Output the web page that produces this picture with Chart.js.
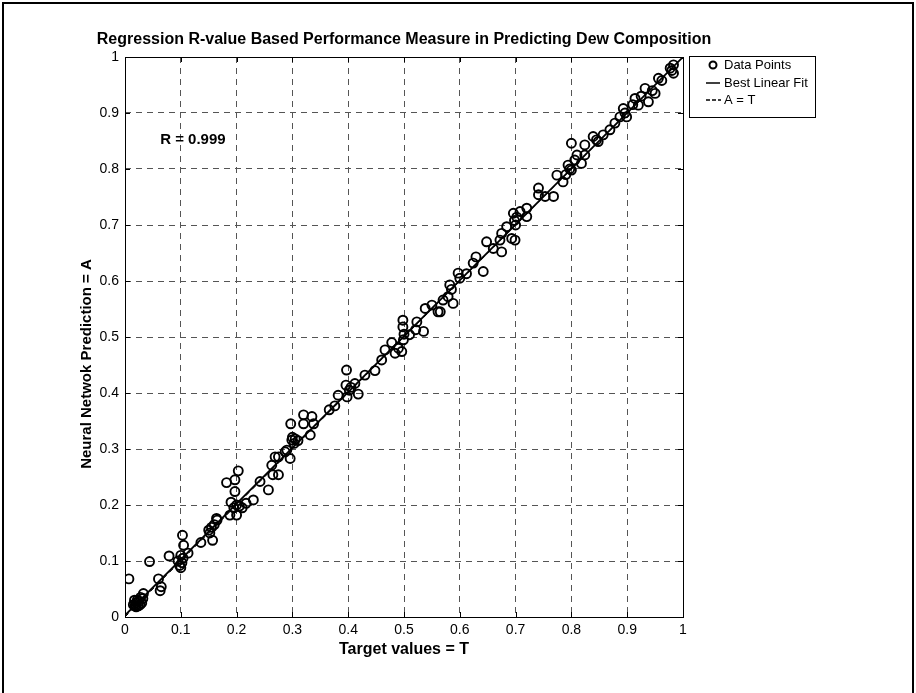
<!DOCTYPE html>
<html>
<head>
<meta charset="utf-8">
<script src="https://cdn.jsdelivr.net/npm/chart.js@4/dist/chart.umd.min.js"></script>
<style>
  html, body { margin: 0; padding: 0; background: #fff; }
  #wrap { width: 916px; height: 693px; }
</style>
</head>
<body>
<div id="wrap"><canvas id="c" width="916" height="693"></canvas></div>
<script>
// Target values (T) and the network's predicted values (A)
const targets = [
  0.015,0.018,0.020,0.022,0.025,0.028,0.030,0.017,0.024,0.032,0.020,0.027,
  0.007,0.044,0.033,0.060,0.065,0.063,
  0.079,0.095,0.098,0.100,0.102,0.104,0.100,0.103,0.105,0.113,0.136,
  0.150,0.155,0.160,0.165,0.157,0.152,0.164,
  0.182,0.197,0.203,0.197,0.190,0.195,0.200,0.188,0.200,0.205,0.210,0.217,0.230,
  0.242,0.257,0.263,0.265,0.275,0.275,0.290,0.269,
  0.287,0.296,0.297,0.299,0.300,0.303,0.305,0.310,0.320,0.320,0.335,0.338,0.332,
  0.366,0.376,0.382,0.397,0.396,0.398,0.402,0.405,0.412,0.418,0.430,0.448,
  0.460,0.466,0.478,0.484,0.496,0.490,0.498,0.498,0.500,0.499,0.510,0.523,0.521,
  0.535,0.538,0.550,0.561,0.565,0.570,0.579,0.588,0.582,0.585,0.597,0.600,0.612,
  0.624,0.629,0.642,0.648,0.660,0.672,0.675,0.675,0.684,0.693,0.699,0.696,0.698,
  0.700,0.702,0.708,0.720,0.720,0.741,0.741,0.753,0.768,0.774,0.785,0.794,0.800,
  0.806,0.818,0.824,0.800,0.790,0.797,0.810,0.824,0.839,0.848,0.857,0.845,0.869,
  0.878,0.887,0.899,0.893,0.896,0.914,0.920,0.910,0.925,0.932,0.938,0.950,0.945,
  0.956,0.962,0.977,0.983,0.983,0.980
];
const predictions = [
  0.022,0.020,0.025,0.030,0.028,0.035,0.025,0.030,0.020,0.033,0.018,0.022,
  0.068,0.099,0.042,0.068,0.054,0.047,
  0.109,0.100,0.092,0.088,0.097,0.105,0.110,0.146,0.128,0.114,0.133,
  0.155,0.160,0.165,0.173,0.137,0.150,0.176,
  0.240,0.245,0.261,0.224,0.205,0.195,0.200,0.182,0.182,0.198,0.195,0.203,0.209,
  0.242,0.227,0.271,0.254,0.254,0.286,0.298,0.286,
  0.295,0.283,0.345,0.316,0.321,0.310,0.318,0.315,0.361,0.345,0.358,0.345,0.325,
  0.370,0.377,0.396,0.441,0.414,0.393,0.405,0.410,0.417,0.398,0.432,0.440,
  0.459,0.477,0.490,0.471,0.474,0.480,0.530,0.518,0.505,0.495,0.504,0.527,0.513,
  0.510,0.551,0.557,0.545,0.545,0.566,0.572,0.560,0.593,0.585,0.614,0.605,0.613,
  0.632,0.643,0.617,0.670,0.658,0.673,0.652,0.685,0.697,0.676,0.673,0.721,0.708,
  0.700,0.714,0.724,0.730,0.715,0.766,0.754,0.751,0.751,0.789,0.777,0.807,0.798,
  0.816,0.810,0.825,0.846,0.790,0.800,0.825,0.843,0.858,0.849,0.861,0.852,0.870,
  0.882,0.893,0.893,0.908,0.900,0.926,0.914,0.915,0.930,0.944,0.920,0.935,0.940,
  0.962,0.958,0.980,0.986,0.971,0.976
];

// Least-squares fit line A = m*T + b and the ideal line A = T
const fitSlope = 0.997;
const fitIntercept = 0.003;
const rValue = 0.999;
const tickValues = [0, 0.1, 0.2, 0.3, 0.4, 0.5, 0.6, 0.7, 0.8, 0.9, 1];

const chartTitle = 'Regression R-value Based Performance Measure in Predicting Dew Composition';
const xTitle = 'Target values = T';
const yTitle = 'Neural Netwok Prediction = A';
const FONT = "Arial, 'Liberation Sans', sans-serif";

const points = targets.map((t, i) => ({ x: t, y: predictions[i] }));
const fitLine = [0, 1].map(t => ({ x: t, y: fitSlope * t + fitIntercept }));
const idealLine = [0, 1].map(t => ({ x: t, y: t }));

// Frame, inward ticks, titles, R annotation and the boxed legend
const decorations = {
  id: 'decorations',
  afterDraw(chart) {
    const { ctx, chartArea: a, scales: { x, y } } = chart;
    ctx.save();
    // outer figure frame
    ctx.strokeStyle = '#000';
    ctx.lineWidth = 2;
    ctx.strokeRect(3, 3, 910, 720);

    // axes box
    ctx.lineWidth = 1;
    ctx.strokeRect(Math.round(a.left) + 0.5, Math.round(a.top) + 0.5,
                   Math.round(a.right - a.left), Math.round(a.bottom - a.top));

    // inward tick marks on all four sides
    ctx.beginPath();
    tickValues.forEach(v => {
      const px = Math.round(x.getPixelForValue(v)) + 0.5;
      const py = Math.round(y.getPixelForValue(v)) + 0.5;
      ctx.moveTo(px, a.bottom); ctx.lineTo(px, a.bottom - 5);
      ctx.moveTo(px, a.top); ctx.lineTo(px, a.top + 5);
      ctx.moveTo(a.left, py); ctx.lineTo(a.left + 5, py);
      ctx.moveTo(a.right, py); ctx.lineTo(a.right - 5, py);
    });
    ctx.stroke();

    ctx.fillStyle = '#000';
    ctx.textBaseline = 'middle';

    // chart title
    ctx.font = 'bold 16px ' + FONT;
    ctx.textAlign = 'center';
    ctx.fillText(chartTitle, (a.left + a.right) / 2, 40);

    // axis titles
    ctx.fillText(xTitle, (a.left + a.right) / 2, 650);
    ctx.save();
    ctx.translate(87, 364);
    ctx.rotate(-Math.PI / 2);
    ctx.font = 'bold 15px ' + FONT;
    ctx.fillText(yTitle, 0, 0);
    ctx.restore();

    // R annotation
    ctx.font = 'bold 15px ' + FONT;
    ctx.textAlign = 'left';
    ctx.fillText('R = ' + rValue.toFixed(3), x.getPixelForValue(0.063), y.getPixelForValue(0.852));

    // legend
    const lx = 689, ly = 56, lw = 126, lh = 61;
    ctx.fillStyle = '#fff';
    ctx.fillRect(lx, ly, lw, lh);
    ctx.strokeStyle = '#000';
    ctx.lineWidth = 1;
    ctx.strokeRect(lx + 0.5, ly + 0.5, lw, lh);
    const labels = chart.data.datasets.map(d => d.label);
    ctx.font = '13px ' + FONT;
    ctx.fillStyle = '#000';
    const rows = [65, 83, 100];
    // data points marker
    ctx.lineWidth = 2;
    ctx.beginPath();
    ctx.arc(713, rows[0], 3.5, 0, Math.PI * 2);
    ctx.stroke();
    // solid fit line sample
    ctx.lineWidth = 1.5;
    ctx.beginPath();
    ctx.moveTo(706, rows[1]); ctx.lineTo(720, rows[1]);
    ctx.stroke();
    // dashed A = T sample
    ctx.setLineDash([4, 2]);
    ctx.beginPath();
    ctx.moveTo(706, rows[2]); ctx.lineTo(721, rows[2]);
    ctx.stroke();
    ctx.setLineDash([]);
    labels.forEach((t, i) => ctx.fillText(t, 724, rows[i]));
    ctx.restore();
  }
};

Chart.defaults.font.family = FONT;
Chart.defaults.color = '#000';

new Chart(document.getElementById('c'), {
  type: 'scatter',
  data: {
    datasets: [
      {
        label: 'Data Points',
        data: points,
        pointStyle: 'circle',
        pointRadius: 4.5,
        pointHoverRadius: 4.5,
        pointBorderWidth: 1.9,
        borderColor: '#000',
        backgroundColor: 'rgba(0,0,0,0)',
        order: 3
      },
      {
        label: 'Best Linear Fit',
        type: 'line',
        data: fitLine,
        borderColor: '#000',
        borderWidth: 1.8,
        pointRadius: 0,
        fill: false,
        order: 2
      },
      {
        label: 'A = T',
        type: 'line',
        data: idealLine,
        borderColor: '#000',
        borderWidth: 1,
        borderDash: [5, 4],
        pointRadius: 0,
        fill: false,
        order: 1
      }
    ]
  },
  options: {
    responsive: false,
    animation: false,
    events: [],
    layout: { padding: { top: 57, right: 233, left: 0, bottom: 0 } },
    plugins: { legend: { display: false }, title: { display: false }, tooltip: { enabled: false } },
    scales: {
      x: {
        type: 'linear', min: 0, max: 1,
        afterBuildTicks: s => { s.ticks = tickValues.map(v => ({ value: v })); },
        afterFit: s => { s.height = 76; },
        ticks: { padding: 5, font: { size: 14 }, color: '#000',
                 callback: v => (v === 0 || v === 1) ? String(v) : v.toFixed(1) },
        grid: { color: '#555', lineWidth: 1, drawTicks: false },
        border: { display: false, dash: [6, 5] }
      },
      y: {
        type: 'linear', min: 0, max: 1,
        afterBuildTicks: s => { s.ticks = tickValues.map(v => ({ value: v })); },
        afterFit: s => { s.width = 125; },
        ticks: { padding: 6, font: { size: 14 }, color: '#000',
                 callback: v => (v === 0 || v === 1) ? String(v) : v.toFixed(1) },
        grid: { color: '#555', lineWidth: 1, drawTicks: false },
        border: { display: false, dash: [6, 5] }
      }
    }
  },
  plugins: [decorations]
});
</script>
</body>
</html>
